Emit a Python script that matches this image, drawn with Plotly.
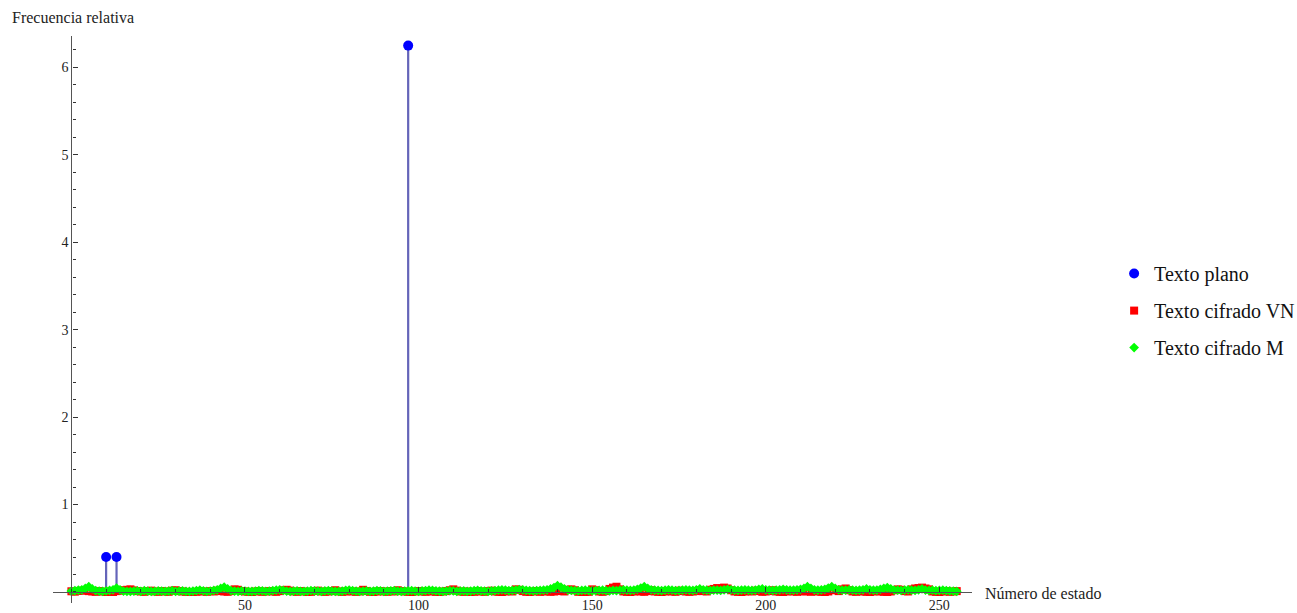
import plotly.graph_objects as go

# ---------------- data ----------------
states = list(range(256))

plain_x = [10, 13, 97]
plain_y = [0.40, 0.40, 6.25]

cipher_vn = [
    0.008, 0.004, 0.012, 0.015, 0.020, 0.010, 0.006, 0.002, 0.010, 0.005, 0.000, 0.006, 0.000, 0.010, 0.015, 0.020,
    0.025, 0.030, 0.018, 0.010, 0.006, 0.002, 0.010, 0.015, 0.006, 0.002, 0.010, 0.006, 0.002, 0.015, 0.020, 0.010,
    0.006, 0.002, 0.000, 0.000, 0.002, 0.010, 0.006, 0.002, 0.010, 0.006, 0.015, 0.010, 0.006, 0.002, 0.010, 0.030,
    0.025, 0.010, 0.006, 0.002, 0.000, 0.006, 0.010, 0.002, 0.006, 0.010, 0.006, 0.002, 0.010, 0.020, 0.025, 0.015,
    0.006, 0.002, 0.010, 0.006, 0.000, 0.002, 0.010, 0.015, 0.006, 0.002, 0.006, 0.010, 0.020, 0.006, 0.002, 0.006,
    0.010, 0.006, 0.002, 0.006, 0.025, 0.010, 0.002, 0.000, 0.006, 0.010, 0.006, 0.002, 0.010, 0.006, 0.020, 0.010,
    0.006, 0.002, 0.000, 0.006, 0.010, 0.006, 0.002, 0.010, 0.006, 0.002, 0.000, 0.006, 0.010, 0.020, 0.030, 0.015,
    0.006, 0.002, 0.006, 0.000, 0.002, 0.010, 0.006, 0.002, 0.010, 0.015, 0.006, 0.002, 0.000, 0.006, 0.010, 0.006,
    0.030, 0.025, 0.010, 0.002, 0.000, 0.006, 0.010, 0.002, 0.006, 0.010, 0.002, 0.006, 0.010, 0.015, 0.006, 0.025,
    0.030, 0.020, 0.002, 0.000, 0.000, 0.002, 0.030, 0.020, 0.006, 0.002, 0.010, 0.035, 0.050, 0.060, 0.030, 0.006,
    0.002, 0.000, 0.006, 0.010, 0.006, 0.002, 0.010, 0.020, 0.006, 0.002, 0.000, 0.006, 0.010, 0.006, 0.002, 0.015,
    0.010, 0.006, 0.002, 0.006, 0.010, 0.020, 0.010, 0.006, 0.025, 0.035, 0.045, 0.035, 0.050, 0.040, 0.020, 0.006,
    0.002, 0.000, 0.006, 0.010, 0.006, 0.015, 0.010, 0.002, 0.006, 0.010, 0.020, 0.006, 0.002, 0.000, 0.006, 0.010,
    0.006, 0.002, 0.010, 0.006, 0.010, 0.002, 0.010, 0.006, 0.002, 0.000, 0.006, 0.020, 0.025, 0.010, 0.030, 0.040,
    0.020, 0.006, 0.002, 0.010, 0.006, 0.002, 0.000, 0.006, 0.010, 0.006, 0.002, 0.000, 0.006, 0.020, 0.030, 0.025,
    0.010, 0.006, 0.030, 0.040, 0.045, 0.050, 0.040, 0.030, 0.006, 0.002, 0.000, 0.006, 0.010, 0.002, 0.006, 0.010,
]

cipher_m = [
    0.010, 0.015, 0.020, 0.025, 0.040, 0.060, 0.035, 0.015, 0.010, 0.008, 0.012, 0.018, 0.025, 0.045, 0.025, 0.010,
    0.008, 0.006, 0.010, 0.012, 0.008, 0.015, 0.010, 0.006, 0.008, 0.012, 0.010, 0.007, 0.010, 0.015, 0.008, 0.010,
    0.012, 0.008, 0.006, 0.010, 0.015, 0.020, 0.012, 0.008, 0.010, 0.018, 0.025, 0.040, 0.055, 0.035, 0.015, 0.010,
    0.008, 0.012, 0.010, 0.006, 0.008, 0.010, 0.015, 0.012, 0.008, 0.010, 0.015, 0.020, 0.025, 0.018, 0.010, 0.008,
    0.010, 0.012, 0.008, 0.006, 0.010, 0.015, 0.012, 0.010, 0.008, 0.012, 0.015, 0.010, 0.008, 0.006, 0.010, 0.018,
    0.022, 0.015, 0.010, 0.008, 0.010, 0.012, 0.008, 0.010, 0.015, 0.012, 0.008, 0.010, 0.012, 0.015, 0.010, 0.008,
    0.010, 0.012, 0.015, 0.010, 0.008, 0.012, 0.015, 0.020, 0.018, 0.012, 0.010, 0.008, 0.010, 0.015, 0.012, 0.008,
    0.010, 0.012, 0.008, 0.010, 0.015, 0.018, 0.012, 0.010, 0.008, 0.012, 0.015, 0.020, 0.025, 0.020, 0.015, 0.018,
    0.022, 0.028, 0.025, 0.018, 0.015, 0.012, 0.015, 0.018, 0.020, 0.025, 0.035, 0.050, 0.072, 0.055, 0.035, 0.020,
    0.018, 0.015, 0.012, 0.018, 0.020, 0.015, 0.012, 0.015, 0.018, 0.020, 0.015, 0.012, 0.018, 0.015, 0.020, 0.025,
    0.020, 0.018, 0.022, 0.030, 0.045, 0.060, 0.040, 0.025, 0.020, 0.018, 0.015, 0.020, 0.025, 0.020, 0.015, 0.018,
    0.022, 0.025, 0.020, 0.018, 0.025, 0.035, 0.025, 0.020, 0.018, 0.022, 0.020, 0.018, 0.025, 0.030, 0.025, 0.020,
    0.018, 0.022, 0.025, 0.020, 0.018, 0.022, 0.030, 0.035, 0.025, 0.020, 0.018, 0.022, 0.025, 0.030, 0.025, 0.020,
    0.022, 0.025, 0.030, 0.040, 0.060, 0.040, 0.025, 0.022, 0.025, 0.030, 0.045, 0.060, 0.040, 0.025, 0.020, 0.022,
    0.025, 0.020, 0.018, 0.022, 0.025, 0.035, 0.025, 0.020, 0.022, 0.030, 0.040, 0.050, 0.035, 0.022, 0.020, 0.018,
    0.022, 0.025, 0.020, 0.018, 0.025, 0.035, 0.022, 0.018, 0.020, 0.015, 0.018, 0.020, 0.015, 0.012, 0.010, 0.008,
]

series_names = ["Texto plano", "Texto cifrado VN", "Texto cifrado M"]
x_label = "Número de estado"
y_label = "Frecuencia relativa"
x_ticks = [50, 100, 150, 200, 250]
y_ticks = [1, 2, 3, 4, 5, 6]

# ---------------- axes geometry ----------------
x_range = [-5.3, 259.4]
y_range = [-0.126, 6.36]
FONT = "Liberation Serif"


def stems(vals, color, thick):
    return dict(type="data", symmetric=False, array=[0] * len(vals),
                arrayminus=list(vals), width=0, thickness=thick, color=color)


fig = go.Figure()
fig.add_trace(go.Scatter(
    x=plain_x, y=plain_y, mode="markers", name=series_names[0],
    marker=dict(symbol="circle", size=10, color="#0000ff"),
    error_y=stems(plain_y, "rgb(100,100,185)", 2.2),
    legendgroup="a", cliponaxis=False))
fig.add_trace(go.Scatter(
    x=states, y=cipher_vn, mode="markers", name=series_names[1],
    marker=dict(symbol="square", size=8, color="#ff0000"),
    error_y=stems(cipher_vn, "rgb(255,150,150)", 1),
    legendgroup="b", cliponaxis=False))
fig.add_trace(go.Scatter(
    x=states, y=cipher_m, mode="markers", name=series_names[2],
    marker=dict(symbol="diamond", size=7.5, color="#00ff00"),
    error_y=stems(cipher_m, "rgb(150,255,150)", 1),
    legendgroup="c", cliponaxis=False))

x_pos = (0 - y_range[0]) / (y_range[1] - y_range[0])
y_pos = (0 - x_range[0]) / (x_range[1] - x_range[0])

axis_color = "#555555"
tick_font = dict(family=FONT, size=14, color="#222222")

fig.update_layout(
    width=1297, height=613,
    margin=dict(l=53, r=325, t=36, b=10, autoexpand=False),
    paper_bgcolor="white", plot_bgcolor="white",
    font=dict(family=FONT, color="#222222"),
    showlegend=True,
    legend=dict(xref="container", yref="container", x=0.859, y=0.5855,
                xanchor="left", yanchor="top",
                font=dict(family=FONT, size=20, color="#111111"),
                tracegroupgap=8, itemsizing="trace"),
    xaxis=dict(range=x_range, anchor="free", position=x_pos, automargin=False,
               showgrid=False, zeroline=False,
               showline=True, linecolor=axis_color, linewidth=1.3,
               ticks="inside", ticklen=5, tickwidth=1, tickcolor="#333333",
               tickvals=x_ticks,
               minor=dict(ticks="inside", ticklen=3, dtick=10, tick0=0,
                          tickcolor="#333333", showgrid=False),
               tickfont=tick_font),
    yaxis=dict(range=y_range, anchor="free", position=y_pos, automargin=False,
               showgrid=False, zeroline=False,
               showline=True, linecolor=axis_color, linewidth=1.3,
               ticks="inside", ticklen=5, tickwidth=1, tickcolor="#333333",
               tickvals=y_ticks,
               minor=dict(ticks="inside", ticklen=3, dtick=0.2, tick0=0,
                          tickcolor="#333333", showgrid=False),
               tickfont=tick_font),
    annotations=[
        dict(text=y_label, xref="paper", yref="paper", x=-0.047, y=1.014,
             xanchor="left", yanchor="bottom", showarrow=False,
             font=dict(family=FONT, size=16, color="#222222")),
        dict(text=x_label, xref="paper", yref="paper", x=1.012, y=x_pos,
             xanchor="left", yanchor="middle", yshift=-2, showarrow=False,
             font=dict(family=FONT, size=16, color="#222222")),
    ],
)

fig.write_html(
    "out.html",
    config={"displayModeBar": False},
    post_script="document.body.style.margin='0';document.body.style.overflow='hidden';",
)
